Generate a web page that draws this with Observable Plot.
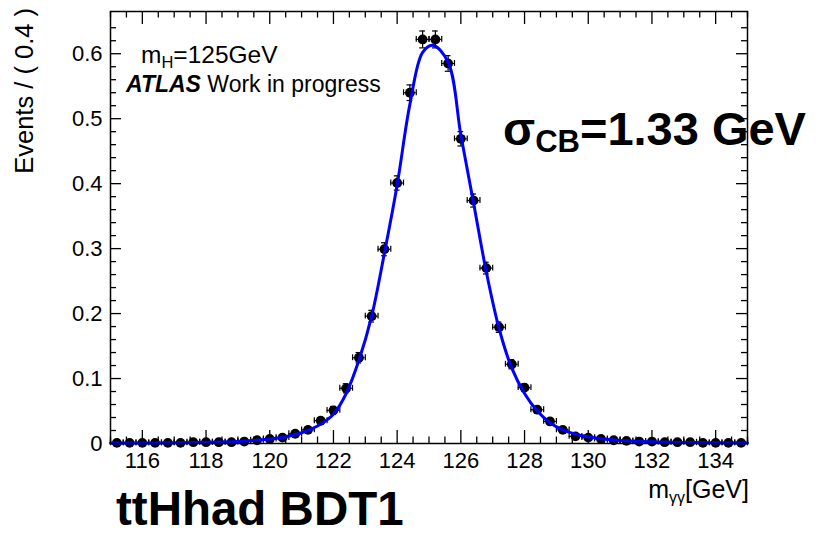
<!DOCTYPE html>
<html>
<head>
<meta charset="utf-8">
<script src="https://cdn.jsdelivr.net/npm/d3@7"></script>
<script src="https://cdn.jsdelivr.net/npm/@observablehq/plot@0.6"></script>
<style>
  html, body { margin: 0; padding: 0; background: #fff; }
  #chart { width: 820px; height: 535px; }
</style>
</head>
<body>
<div id="chart"></div>
<script>
// Diphoton invariant mass, 0.4 GeV bins (bin centres, GeV)
const massCenters = [
  115.2, 115.6, 116.0, 116.4, 116.8, 117.2, 117.6, 118.0, 118.4, 118.8,
  119.2, 119.6, 120.0, 120.4, 120.8, 121.2, 121.6, 122.0, 122.4, 122.8,
  123.2, 123.6, 124.0, 124.4, 124.8, 125.2, 125.6, 126.0, 126.4, 126.8,
  127.2, 127.6, 128.0, 128.4, 128.8, 129.2, 129.6, 130.0, 130.4, 130.8,
  131.2, 131.6, 132.0, 132.4, 132.8, 133.2, 133.6, 134.0, 134.4, 134.8
];

// Weighted signal events per bin
const events = [
  0.001, 0.001, 0.001, 0.001, 0.001, 0.001, 0.002, 0.002, 0.002, 0.002,
  0.003, 0.005, 0.007, 0.009, 0.015, 0.021, 0.035, 0.051, 0.085, 0.132,
  0.196, 0.299, 0.401, 0.540, 0.622, 0.622, 0.585, 0.469, 0.374, 0.270,
  0.179, 0.122, 0.086, 0.052, 0.034, 0.021, 0.011, 0.009, 0.007, 0.005,
  0.004, 0.003, 0.003, 0.002, 0.002, 0.002, 0.001, 0.001, 0.001, 0.001
];

// Statistical uncertainty per bin
const errors = [
  0.001, 0.001, 0.001, 0.001, 0.001, 0.001, 0.001, 0.001, 0.001, 0.001,
  0.002, 0.002, 0.003, 0.003, 0.004, 0.004, 0.005, 0.006, 0.007, 0.008,
  0.009, 0.010, 0.011, 0.012, 0.013, 0.013, 0.012, 0.011, 0.010, 0.009,
  0.008, 0.007, 0.006, 0.005, 0.004, 0.004, 0.003, 0.003, 0.002, 0.002,
  0.002, 0.002, 0.002, 0.001, 0.001, 0.001, 0.001, 0.001, 0.001, 0.001
];

// Crystal Ball fit, sampled along the mass axis
const fitMass = [
  115.0, 116.0, 117.0, 118.0, 119.0, 119.5, 120.0, 120.5, 121.0, 121.5,
  122.0, 122.4, 122.8, 123.2, 123.6, 124.0, 124.4, 124.8, 125.12, 125.6,
  126.0, 126.4, 126.8, 127.2, 127.6, 128.0, 128.4, 128.8, 129.2, 129.6,
  130.0, 130.5, 131.0, 132.0, 133.0, 134.0, 135.0
];
const fitValue = [
  0.0006, 0.0008, 0.0012, 0.0018, 0.0030, 0.0045, 0.0068, 0.0105, 0.0165, 0.0270,
  0.0450, 0.0770, 0.1280, 0.1960, 0.2930, 0.3980, 0.5220, 0.6020, 0.6130, 0.5870,
  0.4750, 0.3700, 0.2640, 0.1770, 0.1160, 0.0770, 0.0500, 0.0320, 0.0210, 0.0145,
  0.0105, 0.0070, 0.0048, 0.0026, 0.0016, 0.0011, 0.0008
];

// Axis ticks
const xMajorTicks = [116, 118, 120, 122, 124, 126, 128, 130, 132, 134];
const xMinorTicks = [115, 115.5, 116.5, 117, 117.5, 118.5, 119, 119.5, 120.5, 121, 121.5,
  122.5, 123, 123.5, 124.5, 125, 125.5, 126.5, 127, 127.5, 128.5, 129, 129.5, 130.5,
  131, 131.5, 132.5, 133, 133.5, 134.5, 135];
const yMajorTicks = [0, 0.1, 0.2, 0.3, 0.4, 0.5, 0.6];
const yMinorTicks = [0.02, 0.04, 0.06, 0.08, 0.12, 0.14, 0.16, 0.18, 0.22, 0.24, 0.26, 0.28,
  0.32, 0.34, 0.36, 0.38, 0.42, 0.44, 0.46, 0.48, 0.52, 0.54, 0.56, 0.58, 0.62, 0.64];
const yTickLabels = ["0", "0.1", "0.2", "0.3", "0.4", "0.5", "0.6"];

const W = 820, H = 535;
const mL = 110, mR = 73, mT = 11, mB = 92;
const frameW = W - mL - mR, frameH = H - mT - mB;
const font = "'Liberation Sans', Arial, Helvetica, sans-serif";
const halfBin = 0.2;

const points = massCenters.map((m, i) => ({ m, v: events[i], e: errors[i] }));
const fit = fitMass.map((m, i) => ({ m, v: fitValue[i] }));

const capX = 0.09;   // GeV half-width of vertical error-bar caps
const capY = 0.0045; // half-height of horizontal error-bar caps

const chart = Plot.plot({
  width: W, height: H,
  marginLeft: mL, marginRight: mR, marginTop: mT, marginBottom: mB,
  style: { fontFamily: font, background: "white", color: "black", overflow: "visible" },
  x: { domain: [115, 135] },
  y: { domain: [0, 0.665] },
  marks: [
    // inward ticks on all four sides
    Plot.tickX(xMajorTicks, { x: d => d, insetTop: frameH - 13, stroke: "black", strokeWidth: 1.3 }),
    Plot.tickX(xMinorTicks, { x: d => d, insetTop: frameH - 6.5, stroke: "black", strokeWidth: 1.3 }),
    Plot.tickX(xMajorTicks, { x: d => d, insetBottom: frameH - 13, stroke: "black", strokeWidth: 1.3 }),
    Plot.tickX(xMinorTicks, { x: d => d, insetBottom: frameH - 6.5, stroke: "black", strokeWidth: 1.3 }),
    Plot.tickY(yMajorTicks, { y: d => d, insetRight: frameW - 11, stroke: "black", strokeWidth: 1.3 }),
    Plot.tickY(yMinorTicks, { y: d => d, insetRight: frameW - 6, stroke: "black", strokeWidth: 1.3 }),
    Plot.tickY(yMajorTicks, { y: d => d, insetLeft: frameW - 11, stroke: "black", strokeWidth: 1.3 }),
    Plot.tickY(yMinorTicks, { y: d => d, insetLeft: frameW - 6, stroke: "black", strokeWidth: 1.3 }),

    // tick labels
    Plot.axisX({ ticks: xMajorTicks, tickSize: 0, tickPadding: 9, fontSize: 22, label: null, tickFormat: d => String(d) }),
    Plot.axisY({ ticks: yMajorTicks, tickSize: 0, tickPadding: 8, fontSize: 22, label: null,
      tickFormat: (d, i) => yTickLabels[i] }),

    // data points with error bars
    Plot.ruleY(points, { y: "v", x1: d => d.m - halfBin, x2: d => d.m + halfBin, stroke: "black", strokeWidth: 1.2 }),
    Plot.ruleX(points, { x: d => d.m - halfBin, y1: d => d.v - capY, y2: d => d.v + capY, stroke: "black", strokeWidth: 1.2 }),
    Plot.ruleX(points, { x: d => d.m + halfBin, y1: d => d.v - capY, y2: d => d.v + capY, stroke: "black", strokeWidth: 1.2 }),
    Plot.ruleX(points, { x: "m", y1: d => Math.max(0, d.v - d.e), y2: d => d.v + d.e, stroke: "black", strokeWidth: 1.2 }),
    Plot.ruleY(points, { y: d => d.v + d.e, x1: d => d.m - capX, x2: d => d.m + capX, stroke: "black", strokeWidth: 1.2 }),
    Plot.ruleY(points.filter(d => d.v - d.e > 0), { y: d => d.v - d.e, x1: d => d.m - capX, x2: d => d.m + capX, stroke: "black", strokeWidth: 1.2 }),
    Plot.dot(points, { x: "m", y: "v", r: 4.9, fill: "black", stroke: "none" }),

    // fitted signal shape
    Plot.line(fit, { x: "m", y: "v", stroke: "#0000ff", strokeWidth: 3, curve: "catmull-rom" }),

    Plot.frame({ stroke: "black", strokeWidth: 1.5 })
  ]
});

document.getElementById("chart").appendChild(chart);

// Annotations: axis titles, labels and category name
const svg = d3.select(chart);
const ann = svg.append("g")
  .attr("font-family", font)
  .attr("fill", "black")
  .attr("text-anchor", "start");

ann.append("text")
  .attr("transform", "translate(33,8) rotate(-90)")
  .attr("text-anchor", "end")
  .attr("font-size", 25.5)
  .text("Events / ( 0.4 )");

const xTitle = ann.append("text")
  .attr("x", 749).attr("y", 498)
  .attr("text-anchor", "end")
  .attr("font-size", 25);
xTitle.append("tspan").text("m");
xTitle.append("tspan").attr("font-size", 16).attr("dy", 5).text("γγ");
xTitle.append("tspan").attr("dy", -5).text("[GeV]");

const mH = ann.append("text").attr("x", 141).attr("y", 63).attr("font-size", 24.5);
mH.append("tspan").text("m");
mH.append("tspan").attr("font-size", 16.5).attr("dy", 5).text("H");
mH.append("tspan").attr("dy", -5).text("=125GeV");

const atlas = ann.append("text").attr("x", 126).attr("y", 92).attr("font-size", 23);
atlas.append("tspan").attr("font-weight", "bold").attr("font-style", "italic").text("ATLAS");
atlas.append("tspan").text(" Work in progress");

const sigma = ann.append("text").attr("x", 503).attr("y", 145)
  .attr("font-size", 47).attr("font-weight", "bold");
sigma.append("tspan").text("σ");
sigma.append("tspan").attr("font-size", 31).attr("dy", 7).text("CB");
sigma.append("tspan").attr("dy", -7).text("=1.33 GeV");

ann.append("text")
  .attr("x", 116).attr("y", 525)
  .attr("font-size", 47.5).attr("font-weight", "bold")
  .text("ttHhad BDT1");
</script>
</body>
</html>
